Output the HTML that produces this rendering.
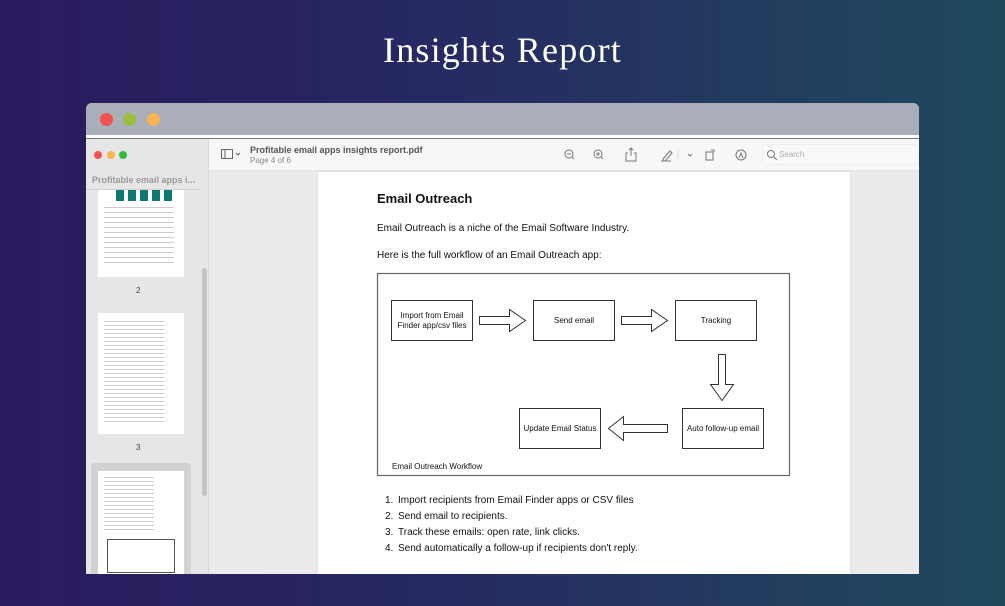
<!DOCTYPE html>
<html><head><meta charset="utf-8"><style>
*{margin:0;padding:0;box-sizing:border-box}
body{width:1005px;height:606px;overflow:hidden;position:relative;background:linear-gradient(90deg,#2a1a5e 0%,#262a62 45%,#1f4a5c 100%);font-family:"Liberation Sans",sans-serif}
.a{position:absolute}
.t{font-family:"Liberation Sans",sans-serif}
</style></head><body>
<div class="a" style="left:0;top:29px;width:1005px;text-align:center;color:#fff;font-family:'Liberation Serif',serif;font-size:36px;letter-spacing:1.2px">Insights Report</div>
<div class="a" style="left:86px;top:103px;width:833px;height:471px;background:#ebebeb;border-radius:6px 6px 0 0;overflow:hidden">
 <div class="a" style="left:0;top:0;width:833px;height:32px;background:#a9aeb9"></div>
 <div class="a" style="left:14px;top:10px;width:13px;height:13px;border-radius:50%;background:#f0524f"></div>
 <div class="a" style="left:37px;top:10px;width:13px;height:13px;border-radius:50%;background:#9bbe3c"></div>
 <div class="a" style="left:61px;top:10px;width:13px;height:13px;border-radius:50%;background:#f8b44f"></div>
 <div class="a" style="left:0;top:32px;width:833px;height:3px;background:#fff"></div>
 <div class="a" style="left:0;top:35px;width:833px;height:1px;background:#777"></div>
 <div class="a" style="left:0;top:36px;width:123px;height:435px;background:#e6e6e6;border-right:1px solid #d8d8d8"></div>
 <div class="a" style="left:8px;top:48px;width:8px;height:8px;border-radius:50%;background:#f0524f"></div>
 <div class="a" style="left:21px;top:48px;width:8px;height:8px;border-radius:50%;background:#f8b44f"></div>
 <div class="a" style="left:33px;top:48px;width:8px;height:8px;border-radius:50%;background:#2fbd3a"></div>
 <div class="a t" style="left:6px;top:72px;font-size:9px;color:#9a9a9a;font-weight:bold">Profitable email apps i...</div>
 <div class="a" style="left:0;top:86px;width:114px;height:1px;background:#d0d0d0"></div>
 <div class="a" style="left:12px;top:87px;width:86px;height:87px;background:#fff"></div>
 <div class="a" style="left:30px;top:87px;width:60px;height:11px;background:repeating-linear-gradient(90deg,#0e7a6e 0 8px,#fff 8px 12px)"></div>
 <div class="a" style="left:18px;top:104px;width:70px;height:60px;background:repeating-linear-gradient(180deg,#ccc 0 1px,#fff 1px 5px)"></div>
 <div class="a t" style="left:50px;top:183px;font-size:8px;color:#444">2</div>
 <div class="a" style="left:12px;top:210px;width:86px;height:121px;background:#fff"></div>
 <div class="a" style="left:18px;top:218px;width:60px;height:104px;background:repeating-linear-gradient(180deg,#ccc 0 1px,#fff 1px 4px)"></div>
 <div class="a t" style="left:50px;top:340px;font-size:8px;color:#444">3</div>
 <div class="a" style="left:5px;top:360px;width:100px;height:115px;background:#d2d2d2;border-radius:4px"></div>
 <div class="a" style="left:12px;top:368px;width:86px;height:110px;background:#fff"></div>
 <div class="a" style="left:18px;top:374px;width:50px;height:55px;background:repeating-linear-gradient(180deg,#ccc 0 1px,#fff 1px 4px)"></div>
 <div class="a" style="left:21px;top:436px;width:68px;height:34px;border:1px solid #555"></div>
 <div class="a" style="left:116px;top:165px;width:5px;height:228px;background:#c4c4c4;border-radius:3px"></div>
 <div class="a" style="left:123px;top:36px;width:710px;height:32px;background:#f7f7f7;border-bottom:1px solid #e2e2e2"></div>
 <svg class="a" style="left:135px;top:46px" width="24" height="12"><rect x="0.5" y="0.5" width="11" height="9" fill="none" stroke="#666"/><line x1="4" y1="1" x2="4" y2="10" stroke="#666"/><path d="M15 4l2 2 2-2" fill="none" stroke="#666"/></svg>
 <div class="a t" style="left:164px;top:42px;font-size:9px;font-weight:bold;color:#555">Profitable email apps insights report.pdf</div>
 <div class="a t" style="left:164px;top:53px;font-size:8px;color:#888">Page 4 of 6</div>
 <svg class="a" style="left:470px;top:44px" width="200" height="16" fill="none" stroke="#777" stroke-width="1">
  <circle cx="13" cy="7" r="4"/><line x1="16" y1="10" x2="18" y2="12"/><line x1="11" y1="7" x2="15" y2="7"/>
  <circle cx="42" cy="7" r="4"/><line x1="45" y1="10" x2="47" y2="12"/><line x1="40" y1="7" x2="44" y2="7"/><line x1="42" y1="5" x2="42" y2="9"/>
  <path d="M72 6h-2v8h10v-8h-2M75 1v8M73 3l2-2 2 2"/>
  <path d="M107 12l7-8 2 2-7 8h-2zM105 14h10"/><line x1="122" y1="3" x2="122" y2="14" stroke="#ddd"/>
  <path d="M132 7l2 2 2-2"/>
  <rect x="150" y="5" width="7" height="8"/><path d="M155 3h3v2"/>
  <circle cx="185" cy="8" r="5"/><path d="M183 11l2-5 2 5"/>
 </svg>
 <div class="a" style="left:676px;top:41px;width:157px;height:21px;background:#f9f9f9;border:1px solid #eee;border-radius:4px"></div>
 <svg class="a" style="left:680px;top:46px" width="12" height="12" fill="none" stroke="#777"><circle cx="5" cy="5" r="3.5"/><line x1="8" y1="8" x2="11" y2="11"/></svg>
 <div class="a t" style="left:693px;top:47px;font-size:8px;color:#aaa">Search</div>
 <div class="a" style="left:232px;top:69px;width:532px;height:402px;background:#fff;box-shadow:0 0 2px #ccc"></div>
</div>
<svg class="a" style="left:0;top:0" width="1005" height="606" font-family="Liberation Sans, sans-serif">
 <text x="377" y="203" font-size="13" font-weight="bold" fill="#111">Email Outreach</text>
 <text x="377" y="231" font-size="10" fill="#111">Email Outreach is a niche of the Email Software Industry.</text>
 <text x="377" y="258" font-size="10" fill="#111">Here is the full workflow of an Email Outreach app:</text>
 <rect x="377.5" y="273.5" width="412" height="202" fill="none" stroke="#666" stroke-width="1.2"/>
 <g fill="#fff" stroke="#333" stroke-width="1">
  <rect x="391.5" y="300.5" width="81" height="40"/>
  <rect x="533.5" y="300.5" width="81" height="40"/>
  <rect x="675.5" y="300.5" width="81" height="40"/>
  <rect x="682.5" y="408.5" width="81" height="40"/>
  <rect x="519.5" y="408.5" width="81" height="40"/>
  <path d="M479.5 316.5h30v-7l16 11-16 11v-7h-30z"/>
  <path d="M621.5 316.5h30v-7l16 11-16 11v-7h-30z"/>
  <path d="M718.5 354.5h7v30h8l-11.5 16-11.5-16h8z"/>
  <path d="M667.5 424.5h-44v-8l-15 12 15 12v-8h44z"/>
 </g>
 <g font-size="8" fill="#111" text-anchor="middle">
  <text x="432" y="318">Import from Email</text><text x="432" y="328">Finder app/csv files</text>
  <text x="574" y="323">Send email</text>
  <text x="716" y="323">Tracking</text>
  <text x="723" y="431">Auto follow-up email</text>
  <text x="560" y="431">Update Email Status</text>
 </g>
 <text x="392" y="469" font-size="8" fill="#111">Email Outreach Workflow</text>
 <g font-size="10" fill="#111">
  <text x="385" y="503">1.</text><text x="398" y="503">Import recipients from Email Finder apps or CSV files</text>
  <text x="385" y="519">2.</text><text x="398" y="519">Send email to recipients.</text>
  <text x="385" y="535">3.</text><text x="398" y="535">Track these emails: open rate, link clicks.</text>
  <text x="385" y="551">4.</text><text x="398" y="551">Send automatically a follow-up if recipients don't reply.</text>
 </g>
</svg>
</body></html>
